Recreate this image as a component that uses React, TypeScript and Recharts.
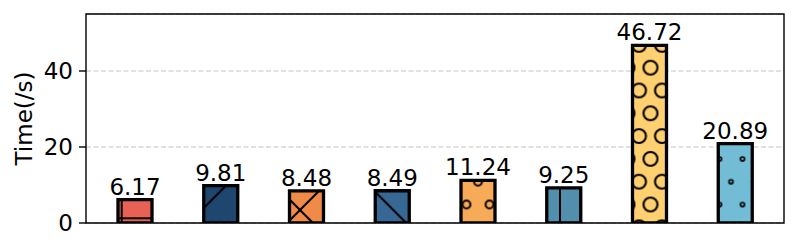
import React from 'react';
import { BarChart, Bar, XAxis, YAxis, CartesianGrid, Cell, LabelList, ReferenceArea } from 'recharts';

// one bar per run, no category names on the x axis
const runs = [0, 1, 2, 3, 4, 5, 6, 7];
const times = [6.17, 9.81, 8.48, 8.49, 11.24, 9.25, 46.72, 20.89];
const yTicks = [0, 20, 40];

const colors = ['#e76254', '#1e466e', '#ef8a47', '#376795', '#f7aa58', '#528fad', '#ffd06f', '#72bcd5'];
const hatches = ['+', '/', 'x', '\\', 'o', '|', 'O', '.'];

const data = runs.map((r, i) => ({ run: r, time: times[i] }));

const FS = 23;
const LW = 2;
const T = 48;

function linePattern(id: string, color: string, hatch: string) {
    // tile origins picked so the lines sit where the reference has them
    if (hatch === '+') {
        return (
            <pattern key={id} id={id} patternUnits='userSpaceOnUse' width={T} height={T} x={89.7} y={186.3}>
                <rect width={T} height={T} fill={color} />
                <line x1={24} y1={0} x2={24} y2={T} stroke='#000' strokeWidth={LW} />
                <line x1={0} y1={24} x2={T} y2={24} stroke='#000' strokeWidth={LW} />
            </pattern>
        );
    }
    if (hatch === '|') {
        return (
            <pattern key={id} id={id} patternUnits='userSpaceOnUse' width={T} height={T} x={528} y={0}>
                <rect width={T} height={T} fill={color} />
                <line x1={24} y1={0} x2={24} y2={T} stroke='#000' strokeWidth={LW} />
            </pattern>
        );
    }
    const fwd = (
        <g>
            <line x1={0} y1={T} x2={T} y2={0} stroke='#000' strokeWidth={LW} />
            <line x1={-4} y1={4} x2={4} y2={-4} stroke='#000' strokeWidth={LW} />
            <line x1={T - 4} y1={T + 4} x2={T + 4} y2={T - 4} stroke='#000' strokeWidth={LW} />
        </g>
    );
    const back = (
        <g>
            <line x1={0} y1={0} x2={T} y2={T} stroke='#000' strokeWidth={LW} />
            <line x1={-4} y1={T - 4} x2={4} y2={T + 4} stroke='#000' strokeWidth={LW} />
            <line x1={T - 4} y1={-4} x2={T + 4} y2={4} stroke='#000' strokeWidth={LW} />
        </g>
    );
    let x0 = 0;
    let y0 = 0;
    if (hatch === '/') y0 = 347.7;
    if (hatch === '\\') y0 = 8.7;
    if (hatch === 'x') {
        x0 = 4;
        y0 = 10;
    }
    return (
        <pattern key={id} id={id} patternUnits='userSpaceOnUse' width={T} height={T} x={x0} y={y0}>
            <rect width={T} height={T} fill={color} />
            {hatch !== '\\' && fwd}
            {hatch !== '/' && back}
        </pattern>
    );
}

function circlePattern(id: string, color: string, r: number, sw: number) {
    const w = 23;
    const h = 45.6;
    const pts = [[0, 0], [w, 0], [0, h], [w, h], [w / 2, h / 2]];
    return (
        <pattern key={id} id={id} patternUnits='userSpaceOnUse' width={w} height={h} x={711.5} y={196.5}>
            <rect width={w} height={h} fill={color} />
            {pts.map(([cx, cy], k) => (
                <circle key={k} cx={cx} cy={cy} r={r} fill='none' stroke='#000' strokeWidth={sw} />
            ))}
        </pattern>
    );
}

function hatchDef(i: number) {
    const id = 'hatch' + i;
    const h = hatches[i];
    if (h === 'o') return circlePattern(id, colors[i], 3.9, 2);
    if (h === 'O') return circlePattern(id, colors[i], 7, 2.1);
    if (h === '.') return circlePattern(id, colors[i], 2, 1.7);
    return linePattern(id, colors[i], h);
}

const yLabel = () => (
    <text
        x={16}
        y={110.5}
        transform='rotate(-90, 16, 110.5)'
        textAnchor='middle'
        dominantBaseline='central'
        style={{ fontSize: FS }}
        fill='#000'
    >
        Time(/s)
    </text>
);

export default function App() {
    return (
        <div style={{ fontFamily: '"DejaVu Sans", sans-serif' }}>
            <BarChart width={790} height={243} data={data} margin={{ top: 6, right: 14, bottom: 28, left: 0 }}>
                <defs>{runs.map((_, i) => hatchDef(i))}</defs>
                <CartesianGrid vertical={false} stroke='#c4c4c4' strokeDasharray='5 2.5' />
                <XAxis
                    dataKey='run'
                    type='number'
                    domain={[-0.57, 7.57]}
                    allowDataOverflow
                    hide
                />
                <YAxis
                    width={78}
                    domain={[0, 55]}
                    allowDataOverflow
                    ticks={yTicks}
                    axisLine={false}
                    tickLine={{ stroke: '#000', strokeWidth: 1.4 }}
                    tickSize={7}
                    tickMargin={6}
                    tick={{ fill: '#000', fontSize: FS, style: { fontSize: FS } }}
                    label={yLabel}
                />
                <Bar
                    dataKey='time'
                    barSize={34}
                    stroke='#000'
                    strokeWidth={3.3}
                    strokeLinejoin='miter'
                    isAnimationActive={false}
                >
                    {runs.map((_, i) => (
                        <Cell key={i} fill={`url(#hatch${i})`} />
                    ))}
                    <LabelList
                        dataKey='time'
                        position='top'
                        offset={5}
                        fill='#000'
                        fontSize={FS}
                        style={{ fontSize: FS }}
                        formatter={(v: number) => v.toFixed(2)}
                    />
                </Bar>
                <ReferenceArea x1={-0.57} x2={7.57} y1={0} y2={55} fill='none' stroke='#000' strokeWidth={1.4} fillOpacity={0} />
            </BarChart>
        </div>
    );
}
